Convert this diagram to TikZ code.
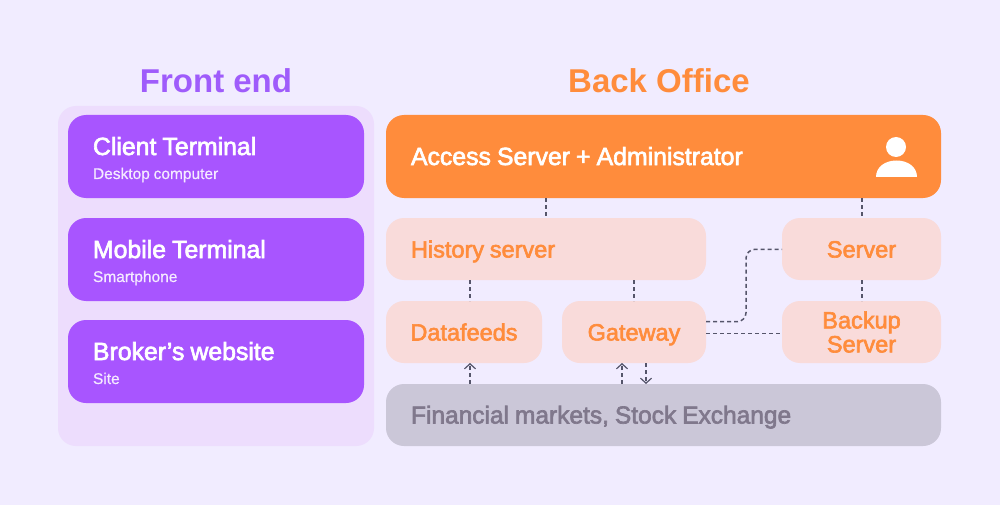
\documentclass[tikz,border=0pt]{standalone}
\usepackage{fontspec}
\setmainfont{Liberation Sans}
\newfontfamily\medfont[FakeBold=2.6]{Liberation Sans}
\newfontfamily\subfont[FakeBold=0.6]{Liberation Sans}
\usetikzlibrary{arrows.meta,calc}
\definecolor{bgc}{HTML}{F1ECFF}
\definecolor{panelc}{HTML}{EDDDFD}
\definecolor{purplec}{HTML}{A855FF}
\definecolor{orangec}{HTML}{FF8C3C}
\definecolor{paleo}{HTML}{F9DBDA}
\definecolor{greyc}{HTML}{CBC7D8}
\definecolor{greyt}{HTML}{80788C}
\definecolor{linec}{HTML}{55556A}
\definecolor{titlep}{HTML}{9F5CFB}
\tikzset{
  x=1pt,y=-1pt,
  boxbase/.style={rounded corners=18pt,inner sep=0pt,outer sep=0pt,anchor=north west},
  frontbox/.style={boxbase,fill=purplec,text=white,minimum width=296pt,minimum height=83pt,align=left,text width=246pt,text height=21pt,text depth=24pt,font=\medfont\fontsize{24.8}{24}\selectfont},
  palebox/.style={boxbase,fill=paleo,text=orangec,minimum height=62pt,align=center,font=\medfont\fontsize{23.5}{24}\selectfont},
  oneline/.style={text height=17pt,text depth=0pt},
  conn/.style={draw=linec,line width=1.5pt,dash pattern=on 4pt off 3pt},
  upconn/.style={conn,-{Straight Barb[length=5pt,width=11pt,line width=1.2pt,sep=0pt]}},
  titlet/.style={font=\fontsize{33}{36}\selectfont\bfseries,anchor=center}
}
\newcommand{\tw}[1]{{\spaceskip 0.245em\relax #1}}
\newcommand{\subline}[1]{\\{\subfont\fontsize{15.5}{18}\selectfont\color{white!88!purplec}\tw{#1}}}
\begin{document}
\begin{tikzpicture}
\useasboundingbox (0,0) rectangle (1000,505);
\fill[bgc] (0,0) rectangle (1000,505);
\node[titlet,text=titlep] (fronttitle) at (216,81) {Front end};
\node[titlet,text=orangec] (backtitle) at (659,81) {Back Office};
\node[boxbase,fill=panelc,minimum width=316pt,minimum height=340pt] (panel) at (58,106) {};
\node[frontbox] (client) at (68,115) {\tw{Client Terminal}\subline{Desktop computer}};
\node[frontbox] (mobile) at (68,218) {\tw{Mobile Terminal}\subline{Smartphone}};
\node[frontbox] (broker) at (68,320) {\tw{Broker’s website}\subline{Site}};
\node[boxbase,oneline,fill=orangec,text=white,minimum width=555pt,minimum height=83pt,text width=505pt,align=left,font=\medfont\fontsize{24.8}{27}\selectfont] (access) at (386,115) {\tw{Access Server + Administrator}};
\node[palebox,oneline,minimum width=320pt,text width=270pt,align=left] (history) at (386,218) {\tw{History server}};
\node[palebox,oneline,minimum width=156pt] (datafeeds) at (386,301) {Datafeeds};
\node[palebox,oneline,minimum width=144pt] (gateway) at (562,301) {Gateway};
\node[palebox,oneline,minimum width=159pt] (server) at (782,218) {Server};
\node[palebox,minimum width=159pt] (backup) at (782,301) {Backup\\Server};
\node[boxbase,oneline,fill=greyc,text=greyt,minimum width=555pt,minimum height=62pt,text width=505pt,align=left,font=\medfont\fontsize{24.5}{27}\selectfont] (markets) at (386,384) {\tw{Financial markets, Stock Exchange}};
% user icon
\fill[white] (896,147) circle (10);
\fill[white] (876,177) .. controls (876,167) and (885,160.500) .. (896.500,160.500) .. controls (908,160.500) and (917,167) .. (917,177) -- cycle;
% connector positions
\coordinate (xa) at (546,0);
\coordinate (xb) at (470,0);
\coordinate (xc) at (634,0);
\coordinate (xd) at (862,0);
\coordinate (xe) at (622,0);
\coordinate (xf) at (646,0);
\coordinate (yg) at (0,321.700);
\coordinate (yh) at (0,333.700);
\coordinate (ys) at (0,249.300);
\coordinate (xbend) at (746,0);
\draw[conn] (access.south -| xa) -- (history.north -| xa);
\draw[conn] (access.south -| xd) -- (server.north -| xd);
\draw[conn] (history.south -| xb) -- (datafeeds.north -| xb);
\draw[conn] (history.south -| xc) -- (gateway.north -| xc);
\draw[conn] (server.south -| xd) -- (backup.north -| xd);
\draw[conn,rounded corners=9pt] (gateway.east |- yg) -- (xbend |- yg) -- (xbend |- ys) -- (server.west |- ys);
\draw[conn] (gateway.east |- yh) -- (backup.west |- yh);
\draw[upconn] (markets.north -| xb) -- (datafeeds.south -| xb);
\draw[upconn] (markets.north -| xe) -- (gateway.south -| xe);
\draw[upconn] (gateway.south -| xf) -- (markets.north -| xf);
\end{tikzpicture}
\end{document}
